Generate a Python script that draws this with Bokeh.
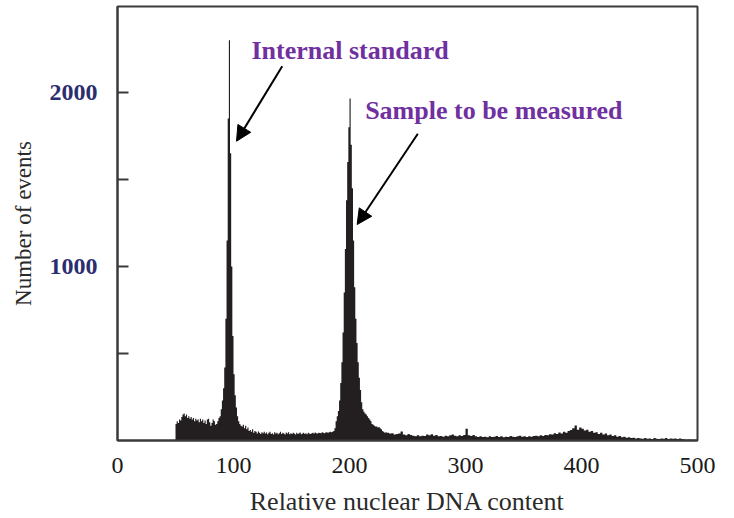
from bokeh.plotting import figure
from bokeh.models import FixedTicker, Label, Arrow, NormalHead, Range1d
from bokeh.embed import file_html
from bokeh.resources import INLINE

# ---- data: histogram of relative nuclear DNA content (channel counts) ----
shoulder_start = 50
shoulder_counts = [95, 110, 100, 120, 115, 135, 150, 155, 140, 150,
                   130, 140, 125, 135, 120, 130, 110, 125, 115, 120,
                   105, 125, 110, 120, 100, 115, 95, 120, 125, 105,
                   85, 100, 120, 110, 90, 95, 110, 130]
peak1_start = 88
peak1_counts = [140, 180, 230, 300, 420, 700, 1150, 1850, 2300, 1650,
                1000, 600, 380, 260, 190, 140, 110, 95, 85]
valley_start = 107
valley_counts = [80, 90, 70, 85, 65, 75, 55, 60, 50, 65,
                 45, 55, 50, 40, 52, 45, 38, 48, 42, 50,
                 40, 46, 36, 44, 50, 38, 42, 35, 48, 40,
                 45, 36, 42, 50, 38, 44, 40, 34, 46, 40,
                 48, 36, 42, 38, 45, 40, 35, 44, 38, 42,
                 46, 36, 40, 44, 38, 42, 36, 45, 40, 38,
                 42, 44, 40, 46, 42, 40, 45, 43, 41, 47,
                 44, 42, 46, 48, 45, 47, 50, 48]
peak2_start = 185
peak2_counts = [50, 55, 70, 110, 140, 170, 230, 330, 450, 620,
                850, 1100, 1380, 1600, 1800, 1965, 1700, 1450, 1150, 880,
                700, 560, 450, 360, 290, 220, 180, 165, 155, 150,
                140, 130, 120, 110, 95, 90, 85, 80, 80, 75,
                78, 70, 65, 55, 50, 45, 48]
tail_start = 232
tail_width = 2
tail_counts = [45, 40, 42, 35, 38, 40, 52, 35, 30, 38,
               32, 28, 25, 30, 24, 28, 26, 34, 30, 36,
               28, 32, 24, 26, 22, 28, 24, 30, 35, 28,
               25, 30, 26, 32, 68, 30, 26, 32, 24, 20,
               24, 20, 22, 18, 24, 20, 22, 26, 20, 24,
               18, 22, 20, 26, 22, 20, 24, 28, 22, 25,
               20, 24, 22, 26, 28, 24, 30, 26, 32, 30,
               36, 34, 42, 38, 46, 40, 50, 45, 55, 60,
               70, 86, 62, 74, 68, 58, 62, 50, 55, 45,
               48, 38, 44, 35, 40, 30, 35, 26, 30, 22,
               26, 18, 22, 16, 18, 14, 16, 12, 15, 12,
               10, 14, 10, 12, 9, 14, 10, 8, 12, 10,
               14, 9, 12, 10, 12, 8, 11, 9, 6, 5,
               6, 4, 5, 4]

x_ticks = [0, 100, 200, 300, 400, 500]
y_ticks = [500, 1000, 1500, 2000]
y_tick_labels = {500: "", 1000: "1000", 1500: "", 2000: "2000"}
x_title = "Relative nuclear DNA content"
y_title = "Number of events"
note_standard = "Internal standard"
note_sample = "Sample to be measured"

# ---- build step outline from segments ----
edges, counts = [], []
for start, width, vals in [(shoulder_start, 1, shoulder_counts),
                           (peak1_start, 1, peak1_counts),
                           (valley_start, 1, valley_counts),
                           (peak2_start, 1, peak2_counts),
                           (tail_start, tail_width, tail_counts)]:
    for i, v in enumerate(vals):
        edges.append(start + i * width)
        counts.append(v)
edges.append(edges[-1] + tail_width)
counts.append(counts[-1])

SERIF = "Liberation Serif"
FRAME = "#3a3a3a"

p = figure(width=734, height=518, x_range=Range1d(0, 500), y_range=Range1d(0, 2494),
           output_backend="svg", toolbar_location=None,
           min_border_left=117, min_border_right=37, min_border_top=6, min_border_bottom=78)

p.varea_step(x=edges, y1=[0] * len(edges), y2=counts, step_mode="after",
             fill_color="#231f20")

p.xgrid.visible = False
p.ygrid.visible = False
p.outline_line_color = FRAME
p.outline_line_width = 2
p.background_fill_color = "white"
p.border_fill_color = "white"

xa = p.xaxis[0]
xa.ticker = FixedTicker(ticks=x_ticks)
xa.major_tick_in = 0
xa.major_tick_out = 0
xa.minor_tick_line_color = None
xa.axis_line_color = FRAME
xa.axis_line_width = 2
xa.major_label_text_font = SERIF
xa.major_label_text_font_size = "24px"
xa.major_label_text_color = "#1a1a1a"
xa.major_label_standoff = 17
xa.axis_label = x_title
xa.axis_label_text_font = SERIF
xa.axis_label_text_font_size = "26px"
xa.axis_label_text_font_style = "normal"
xa.axis_label_text_color = "#2a2a2a"
xa.axis_label_standoff = 11

ya = p.yaxis[0]
ya.ticker = FixedTicker(ticks=y_ticks)
ya.major_label_overrides = y_tick_labels
ya.major_tick_in = 11
ya.major_tick_out = 0
ya.major_tick_line_color = FRAME
ya.major_tick_line_width = 2
ya.minor_tick_line_color = None
ya.axis_line_color = FRAME
ya.axis_line_width = 2
ya.major_label_text_font = SERIF
ya.major_label_text_font_style = "bold"
ya.major_label_text_font_size = "24px"
ya.major_label_text_color = "#2b2d6e"
ya.major_label_standoff = 20
ya.axis_label = y_title
ya.axis_label_text_font = SERIF
ya.axis_label_text_font_size = "23px"
ya.axis_label_text_font_style = "normal"
ya.axis_label_text_color = "#2a2a2a"
ya.axis_label_standoff = 11

# annotations
PURPLE = "#7030a0"
p.add_layout(Label(x=115.5, y=2243, text=note_standard, text_font=SERIF, text_font_size="26px",
                   text_font_style="bold", text_color=PURPLE, text_baseline="alphabetic"))
p.add_layout(Label(x=213.5, y=1896, text=note_sample, text_font=SERIF, text_font_size="26px",
                   text_font_style="bold", text_color=PURPLE, text_baseline="alphabetic"))

p.add_layout(Arrow(end=NormalHead(size=15, fill_color="black", line_color="black"),
                   x_start=142, y_start=2151, x_end=102.6, y_end=1720,
                   line_width=2, line_color="black"))
p.add_layout(Arrow(end=NormalHead(size=15, fill_color="black", line_color="black"),
                   x_start=258.9, y_start=1763, x_end=206.6, y_end=1241,
                   line_width=2, line_color="black"))

open("out.html", "w").write(file_html(p, INLINE))
